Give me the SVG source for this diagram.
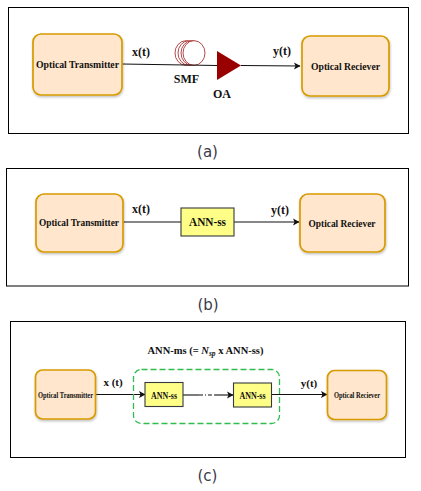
<svg xmlns="http://www.w3.org/2000/svg" width="421" height="491" viewBox="0 0 421 491">
<style>
text{font-family:"Liberation Serif",serif;font-weight:bold;fill:#111;text-anchor:middle}
.cap{font-family:"DejaVu Sans",sans-serif;font-weight:normal;font-size:15px;fill:#3a3a4a}
.frame{fill:#fff;stroke:#000;stroke-width:1}
.node{fill:#ffe6cc;stroke:#d79b00;stroke-width:1.700;filter:url(#sh)}
.ann{fill:#ffff88;stroke:#36393d;stroke-width:1.100}
.line{fill:none;stroke:#111;stroke-width:1.100}
.coil{fill:#fff;stroke:#a01c1c;stroke-width:.8}
</style>
<defs>
<filter id="sh" x="-10%" y="-10%" width="120%" height="125%"><feDropShadow dx="0.5" dy="1.5" stdDeviation="1" flood-color="#000" flood-opacity=".25"/></filter>
<marker id="arr" markerUnits="userSpaceOnUse" markerWidth="7" markerHeight="8" refX="6" refY="4" orient="auto"><path d="M0 0.5L6.5 4L0 7.5L1.500 4Z" fill="#111"/></marker>
</defs>
<g id="frames">
<rect class="frame" x="8.500" y="7.500" width="400" height="126"/>
<rect class="frame" x="6.500" y="168.500" width="402" height="117.500"/>
<rect class="frame" x="10.500" y="321.500" width="395" height="136"/>
</g>
<g id="n-a-smf"><ellipse class="coil" cx="186" cy="53" rx="11" ry="12.300"/><ellipse class="coil" cx="189" cy="53" rx="11" ry="12.300"/><ellipse class="coil" cx="192" cy="53" rx="11" ry="12.300"/><ellipse class="coil" cx="194" cy="53" rx="11" ry="12.300"/><text x="186.500" y="83" font-size="12">SMF</text></g>
<g id="connectors">
<path class="line" d="M122 64L217 65.500"/>
<path class="line" d="M241 65.500L300 66" marker-end="url(#arr)"/>
<path class="line" d="M123 222H181" stroke="#444"/>
<path class="line" d="M234 222H299" marker-end="url(#arr)"/>
<path class="line" d="M96 394.500H145" marker-end="url(#arr)"/>
<path class="line" d="M183 395H199" stroke="#555"/>
<path class="line" d="M199 395H215" stroke-dasharray="4 2 1 2"/>
<path class="line" d="M215 395H233" marker-end="url(#arr)"/>
<path class="line" d="M272 394.500H327" marker-end="url(#arr)"/>
</g>
<g id="n-a-tx"><rect class="node" x="33" y="34" width="89" height="61" rx="8"/><text x="77.500" y="68" font-size="10" textLength="83" lengthAdjust="spacingAndGlyphs">Optical Transmitter</text></g>
<g id="n-a-oa"><path d="M217 51L241 65.500L217 80Z" fill="#990000"/><text x="222" y="98" font-size="12">OA</text></g>
<g id="n-a-rx"><rect class="node" x="302" y="36" width="87" height="60" rx="8"/><text x="345.500" y="70" font-size="10" textLength="69" lengthAdjust="spacingAndGlyphs">Optical Reciever</text></g>
<text x="141" y="56" font-size="12">x(t)</text>
<text x="282" y="55" font-size="12">y(t)</text>
<text class="cap" x="207.500" y="157">(a)</text>
<g id="n-b-tx"><rect class="node" x="36" y="194" width="87" height="58" rx="8"/><text x="79" y="226" font-size="10" textLength="80" lengthAdjust="spacingAndGlyphs">Optical Transmitter</text></g>
<g id="n-b-ann"><rect class="ann" x="181" y="208" width="53" height="28"/><text x="207.500" y="226" font-size="12" textLength="37" lengthAdjust="spacingAndGlyphs">ANN-ss</text></g>
<g id="n-b-rx"><rect class="node" x="300" y="194" width="85" height="58" rx="8"/><text x="342" y="227" font-size="10" textLength="67" lengthAdjust="spacingAndGlyphs">Optical Reciever</text></g>
<text x="141" y="213" font-size="12">x(t)</text>
<text x="280" y="214" font-size="12">y(t)</text>
<text class="cap" x="208" y="310">(b)</text>
<g id="n-c-group"><rect x="133.500" y="369.500" width="146" height="54" rx="8" fill="none" stroke="#2ebd4e" stroke-width="1.300" stroke-dasharray="6 3"/><text x="205.500" y="354" font-size="10.500">ANN-ms (= <tspan font-style="italic">N</tspan><tspan font-style="italic" font-size="7.500" dy="2">sp</tspan><tspan dy="-2"> x ANN-ss)</tspan></text></g>
<g id="n-c-tx"><rect class="node" x="35.500" y="370" width="60" height="49" rx="7"/><text x="65.500" y="398" font-size="8.500" textLength="55" lengthAdjust="spacingAndGlyphs">Optical Transmitter</text></g>
<g id="n-c-ann1"><rect class="ann" x="145" y="382.500" width="38" height="24"/><text x="164" y="399" font-size="10" textLength="26" lengthAdjust="spacingAndGlyphs">ANN-ss</text></g>
<g id="n-c-ann2"><rect class="ann" x="233.500" y="383" width="38" height="24"/><text x="252.500" y="399" font-size="10" textLength="26" lengthAdjust="spacingAndGlyphs">ANN-ss</text></g>
<g id="n-c-rx"><rect class="node" x="327.500" y="370.500" width="59" height="49" rx="7"/><text x="357" y="398" font-size="8.500" textLength="46" lengthAdjust="spacingAndGlyphs">Optical Reciever</text></g>
<text x="113" y="386" font-size="11">x (t)</text>
<text x="309" y="387" font-size="11">y(t)</text>
<text class="cap" x="207.500" y="481">(c)</text>
</svg>
